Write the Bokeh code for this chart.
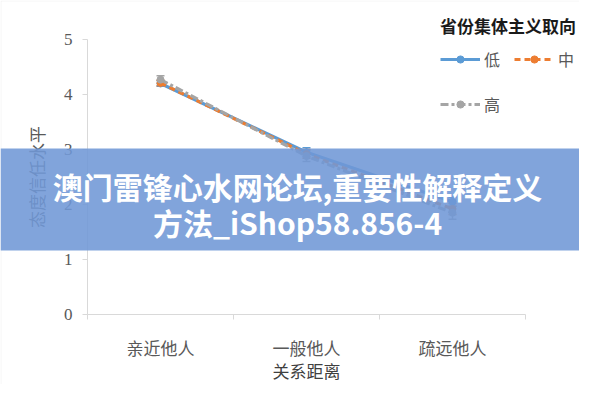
from bokeh.plotting import figure
from bokeh.models import (Range1d, FixedTicker, Legend, LegendItem, ColumnDataSource,
                          Whisker, TeeHead, BoxAnnotation, Label)
from bokeh.embed import file_html
from bokeh.resources import INLINE

categories = ["亲近他人", "一般他人", "疏远他人"]
series_names = ["低", "中", "高"]
low_vals = [4.20, 2.95, 2.05]
mid_vals = [4.21, 2.92, 1.92]
high_vals = [4.27, 2.88, 1.85]
low_err = [0.05, 0.08, 0.08]
mid_err = [0.05, 0.08, 0.10]
high_err = [0.07, 0.10, 0.12]
y_ticks = [0, 1, 2, 3, 4, 5]
legend_title = "省份集体主义取向"
x_title = "关系距离"
y_title = "态度信任水平"
banner_line1 = "澳门雷锋心水网论坛,重要性解释定义"
banner_line2 = "方法_iShop58.856-4"

colors = ["#5b9bd5", "#ed7d31", "#a5a5a5"]
dashes = ["solid", "6 4", "8 3 3 3"]

W, H = 579, 384
AX_L, AX_B = 87, 314              # canvas position of the axes origin (px)
PX_X, PX_Y = 146.0, 55.0          # px per unit
xpos = [i + 0.5 for i in range(len(categories))]

# the frame covers the whole canvas; axes are drawn at fixed data locations
p = figure(width=W, height=H, output_backend="svg", toolbar_location=None,
           x_range=Range1d(-AX_L / PX_X, (W - AX_L) / PX_X),
           y_range=Range1d(-(H - AX_B) / PX_Y, AX_B / PX_Y),
           min_border=0)
p.outline_line_color = None
p.xgrid.visible = False
p.ygrid.visible = False
p.background_fill_color = "white"
p.border_fill_color = "white"

cjk = "Noto Sans CJK SC"
axis_grey = "#d9d9d9"
text_grey = "#595959"

# thin chart-area border (left / top edges visible on the canvas)
p.add_layout(BoxAnnotation(left=0.5, right=W + 10, top=H - 0.5, bottom=-10,
                           left_units="screen", right_units="screen",
                           top_units="screen", bottom_units="screen",
                           fill_alpha=0, line_color="#d9d9d9", line_width=1))

# x axis
xa = p.xaxis[0]
xa.fixed_location = 0
xa.ticker = FixedTicker(ticks=xpos, minor_ticks=[0, 1, 2, 3])
xa.major_label_overrides = {x: c for x, c in zip(xpos, categories)}
xa.bounds = (0, 3)
xa.axis_line_color = axis_grey
xa.major_tick_line_color = None
xa.minor_tick_line_color = axis_grey
xa.minor_tick_out = 5
xa.minor_tick_in = 0
xa.major_label_text_font = cjk
xa.major_label_text_font_size = "17px"
xa.major_label_text_color = text_grey
xa.major_label_standoff = 14
xa.axis_label = x_title
xa.axis_label_text_font = cjk
xa.axis_label_text_font_size = "17px"
xa.axis_label_text_font_style = "normal"
xa.axis_label_text_color = "#404040"
xa.axis_label_standoff = -5

# y axis
ya = p.yaxis[0]
ya.fixed_location = 0
ya.ticker = FixedTicker(ticks=y_ticks, minor_ticks=[])
ya.bounds = (0, 5)
ya.axis_line_color = axis_grey
ya.major_tick_line_color = axis_grey
ya.major_tick_out = 5
ya.major_tick_in = 0
ya.major_label_text_font = "Liberation Serif"
ya.major_label_text_font_size = "17px"
ya.major_label_text_color = text_grey
ya.major_label_standoff = 10
ya.axis_label = y_title
ya.axis_label_text_font = cjk
ya.axis_label_text_font_size = "17px"
ya.axis_label_text_font_style = "normal"
ya.axis_label_text_color = text_grey
ya.axis_label_standoff = 12

items = {}
for name, vals, errs, col, dash in zip(series_names, [low_vals, mid_vals, high_vals],
                                        [low_err, mid_err, high_err], colors, dashes):
    src = ColumnDataSource(dict(x=xpos, y=vals,
                                lo=[v - e for v, e in zip(vals, errs)],
                                hi=[v + e for v, e in zip(vals, errs)]))
    w = Whisker(base="x", upper="hi", lower="lo", source=src, line_color=col, line_width=1.5,
                upper_head=TeeHead(size=8, line_color=col, line_width=1.5),
                lower_head=TeeHead(size=8, line_color=col, line_width=1.5))
    p.add_layout(w)
    r1 = p.line("x", "y", source=src, line_color=col, line_width=3.2, line_dash=dash)
    r2 = p.scatter("x", "y", source=src, marker="circle", size=7, fill_color=col, line_color=col)
    items[name] = LegendItem(label=name, renderers=[r1, r2])

# column-major fill: 低, 高 in first column, 中 in second
legend = Legend(items=[items["低"], items["高"], items["中"]], location=(440, 263), ncols=2,
                title=legend_title,
                title_text_font=cjk, title_text_font_size="17px", title_text_font_style="bold",
                title_text_color="#1a1a1a", title_standoff=3,
                label_text_font=cjk, label_text_font_size="16px", label_text_color=text_grey,
                glyph_width=40, glyph_height=18, label_height=35, label_standoff=4, spacing=10,
                border_line_color=None, background_fill_alpha=0, margin=0, padding=0)
p.add_layout(legend)

# overlay banner (screen units measured from the frame's bottom-left corner)
p.add_layout(BoxAnnotation(left=0, right=W, top=H - 148, bottom=H - 250,
                           left_units="screen", right_units="screen",
                           top_units="screen", bottom_units="screen",
                           fill_color="#6f97d6", fill_alpha=0.88, line_color=None))
for txt, yc in [(banner_line1, 185), (banner_line2, 221)]:
    p.add_layout(Label(x=297, y=H - yc, x_units="screen", y_units="screen", text=txt,
                       text_align="center", text_baseline="middle", text_font=cjk,
                       text_font_size="30px", text_font_style="bold", text_color="white"))

open("out.html", "w").write(file_html(p, INLINE))
